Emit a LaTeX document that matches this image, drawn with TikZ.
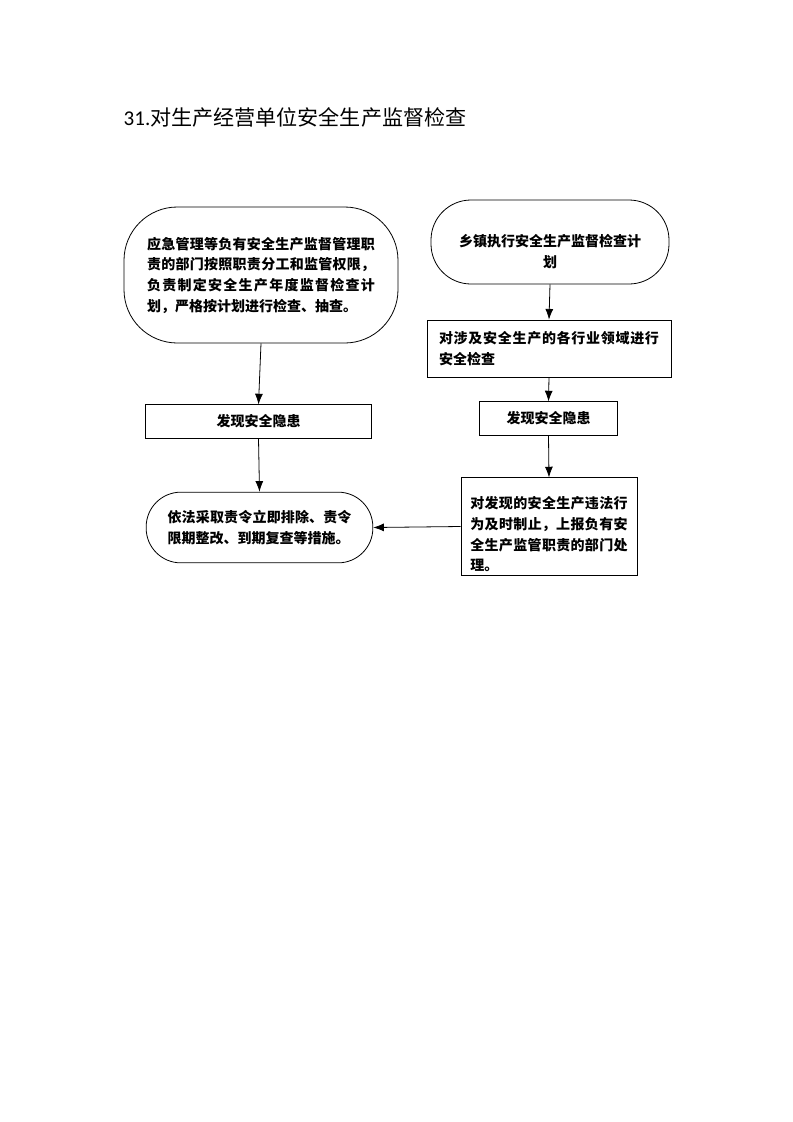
\documentclass[tikz,border=0pt]{standalone}
\usepackage{fontspec}
\usetikzlibrary{arrows.meta}
\newfontfamily\cjk{Noto Sans CJK SC}
\newfontfamily\latinfont{Carlito}
\XeTeXlinebreaklocale "zh"
\XeTeXlinebreakskip=0pt plus 1pt
\def\lowertext#1#2{\raisebox{-#1}[\height][\depth]{#2}}

\begin{document}
\begin{tikzpicture}[x=0.75pt,y=-0.75pt,
		box/.style={draw,line width=0.6pt,inner sep=0pt,
			font=\cjk\bfseries\fontsize{10.5}{15.5}\selectfont},
		arr/.style={line width=0.6pt,-{Latex[length=8pt,width=6pt]}}]
	\useasboundingbox(0,0)rectangle(793,1122);
	\node[anchor=west](title)at(119,117){\fontsize{15.8}{18}\selectfont\latinfont 31.\cjk 对生产经营单位安全生产监督检查};

	\node[box,rounded corners=40pt,minimum width=205.5pt,minimum height=102pt,
		text width=171pt,align=justify](plan)at(261,275)
		{应急管理等负有安全生产监督管理职责的部门按照职责分工和监管权限，负责制定安全生产年度监督检查计划，严格按计划进行检查、抽查。};
	\node[box,minimum width=170pt,minimum height=25pt](fxL)at(258.5,421.5){发现安全隐患};
	\node[box,rounded corners=26pt,minimum width=170pt,minimum height=53pt,
		text width=138pt,align=justify](cs)at(259.5,527.5)
		{依法采取责令立即排除、责令限期整改、到期复查等措施。};

	\node[box,rounded corners=30pt,minimum width=178.5pt,minimum height=63pt](xz)at(550,242)
		{\lowertext{7pt}{\parbox{140pt}{\centering 乡镇执行安全生产监督检查计\\划}}};
	\node[box,minimum width=183pt,minimum height=42.75pt,
		text width=165pt,align=justify](jc)at(549,348.5)
		{对涉及安全生产的各行业领域进行安全检查};
	\node[box,minimum width=104pt,minimum height=25pt](fxR)at(548.5,418.5){发现安全隐患};
	\node[box,minimum width=132pt,minimum height=73pt](zz)at(549,526.5)
		{\lowertext{6pt}{\parbox{118pt}{对发现的安全生产违法行为及时制止，上报负有安全生产监管职责的部门处理。}}};

	\draw[arr](plan.south)--(fxL.north);
	\draw[arr](fxL.south)--(cs.north);
	\draw[arr](xz.south)--(jc.north);
	\draw[arr](jc.south)--(fxR.north);
	\draw[arr](fxR.south)--(zz.north);
	\draw[arr](zz.west)--(cs.east);

\end{tikzpicture}
\end{document}
